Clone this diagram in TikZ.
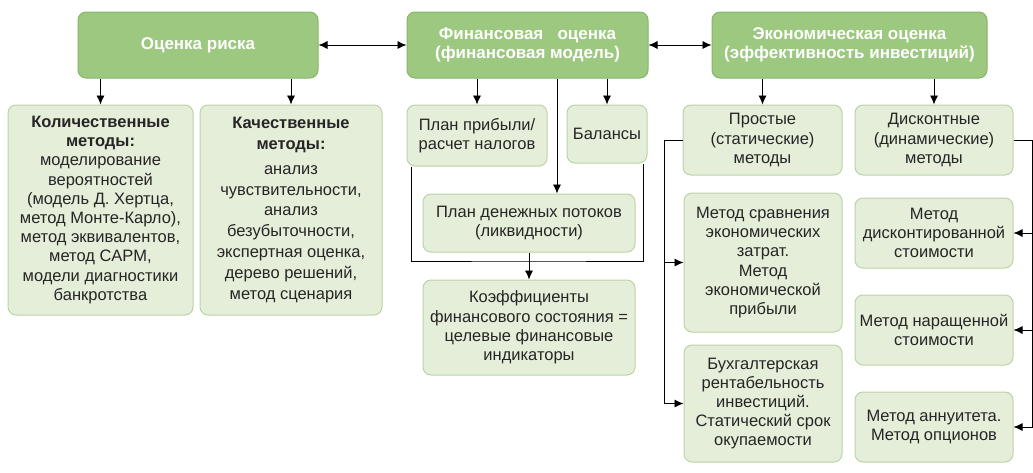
\documentclass[tikz,border=0pt]{standalone}
\usepackage{fontspec}
\setmainfont{Liberation Sans}
\usetikzlibrary{arrows.meta, calc}

\definecolor{topfill}{HTML}{9CC87F}
\definecolor{topline}{HTML}{86B66A}
\definecolor{subfill}{HTML}{E4EED9}
\definecolor{subline}{HTML}{BDD3A6}

\tikzset{
    topbox/.style={draw=topline, fill=topfill, rounded corners=8pt, line width=1pt,
        align=center, inner sep=0pt, text=white, font=\fontsize{17}{19}\selectfont\bfseries},
    subbox/.style={draw=subline, fill=subfill, rounded corners=8pt, line width=1pt,
        align=center, inner sep=0pt, text=black!85, font=\fontsize{16.5}{19.2}\selectfont},
    link/.style={draw=black, line width=0.8pt},
    arr/.style={link, -{Latex[length=9pt,width=8pt]}},
    darr/.style={link, {Latex[length=9pt,width=8pt]}-{Latex[length=9pt,width=8pt]}}
}

\begin{document}
\begin{tikzpicture}[x=1pt, y=-1pt]
    \useasboundingbox (0,0) rectangle (1033,472);

    % top row
    \node[topbox, minimum width=240, minimum height=66] (risk) at (198,45) {Оценка риска};
    \node[topbox, minimum width=241, minimum height=66] (fin) at (527.5,45) {Финансовая~~~оценка\\(финансовая модель)};
    \node[topbox, minimum width=275, minimum height=66] (econ) at (849.5,45) {Экономическая оценка\\(эффективность инвестиций)};

    \draw[darr] (risk.east) -- (fin.west);
    \draw[darr] (fin.east) -- (econ.west);

    % risk
    \node[subbox, minimum width=185, minimum height=210] (quant) at (100.5,210)
        {\textbf{Количественные}\\\textbf{методы:}\\моделирование\\вероятностей\\(модель Д. Хертца,\\метод Монте-Карло),\\метод эквивалентов,\\метод CAPM,\\модели диагностики\\банкротства};
    \node[subbox, font=\fontsize{16.5}{20.8}\selectfont, minimum width=182, minimum height=210] (qual) at (291,210)
        {\textbf{Качественные}\\\textbf{методы:}\\[4pt]анализ\\чувствительности,\\анализ\\безубыточности,\\экспертная оценка,\\дерево решений,\\метод сценария};

    \draw[arr] (risk.south -| quant.north) -- (quant.north);
    \draw[arr] (risk.south -| qual.north) -- (qual.north);

    % finance
    \node[subbox, minimum width=140, minimum height=61] (profit) at (477,135.5) {План прибыли/\\расчет налогов};
    \node[subbox, minimum width=80, minimum height=58] (bal) at (607,134) {Балансы};
    \node[subbox, minimum width=212, minimum height=58] (cash) at (529,223) {План денежных потоков\\(ликвидности)};
    \node[subbox, minimum width=212, minimum height=95] (ratio) at (529,327.5)
        {Коэффициенты\\финансового состояния =\\целевые финансовые\\индикаторы};

    \coordinate (cashin) at ([xshift=28]cash.north);
    \coordinate (join) at (530,261);

    \draw[arr] (fin.south -| profit.north) -- (profit.north);
    \draw[arr] (fin.south -| bal.north) -- (bal.north);
    \draw[arr] (fin.south -| cashin) -- (cashin);
    \draw[link] ([xshift=5]profit.south west) |- (join) -| ([xshift=-4]bal.south east);
    \draw[arr] (cash.south) -- (ratio.north);

    % economics
    \node[subbox, minimum width=159, minimum height=70] (simple) at (762.5,140) {Простые\\(статические)\\методы};
    \node[subbox, minimum width=158, minimum height=70] (disc) at (934,140) {Дисконтные\\(динамические)\\методы};
    \node[subbox, minimum width=158, minimum height=139] (cmp) at (763,262.5)
        {Метод сравнения\\экономических\\затрат.\\Метод\\экономической\\прибыли};
    \node[subbox, minimum width=158, minimum height=117] (acct) at (763,403.5)
        {Бухгалтерская\\рентабельность\\инвестиций.\\Статический срок\\окупаемости};
    \node[subbox, minimum width=158, minimum height=70] (dcf) at (934,233) {Метод\\дисконтированной\\стоимости};
    \node[subbox, minimum width=158, minimum height=70] (fv) at (934,330) {Метод наращенной\\стоимости};
    \node[subbox, minimum width=158, minimum height=70] (ann) at (934,427) {Метод аннуитета.\\Метод опционов};

    \draw[arr] (econ.south -| simple.north) -- (simple.north);
    \draw[arr] (econ.south -| disc.north) -- (disc.north);

    \coordinate (sl) at ([xshift=-18]simple.west);
    \draw[arr] (simple.west) -- (sl) |- (acct.west);
    \draw[arr] (sl |- cmp.west) -- (cmp.west);

    \coordinate (dr) at ([xshift=19]disc.east);
    \draw[arr] (disc.east) -- (dr) |- (ann.east);
    \draw[arr] (dr |- dcf.east) -- (dcf.east);
    \draw[arr] (dr |- fv.east) -- (fv.east);
\end{tikzpicture}
\end{document}
